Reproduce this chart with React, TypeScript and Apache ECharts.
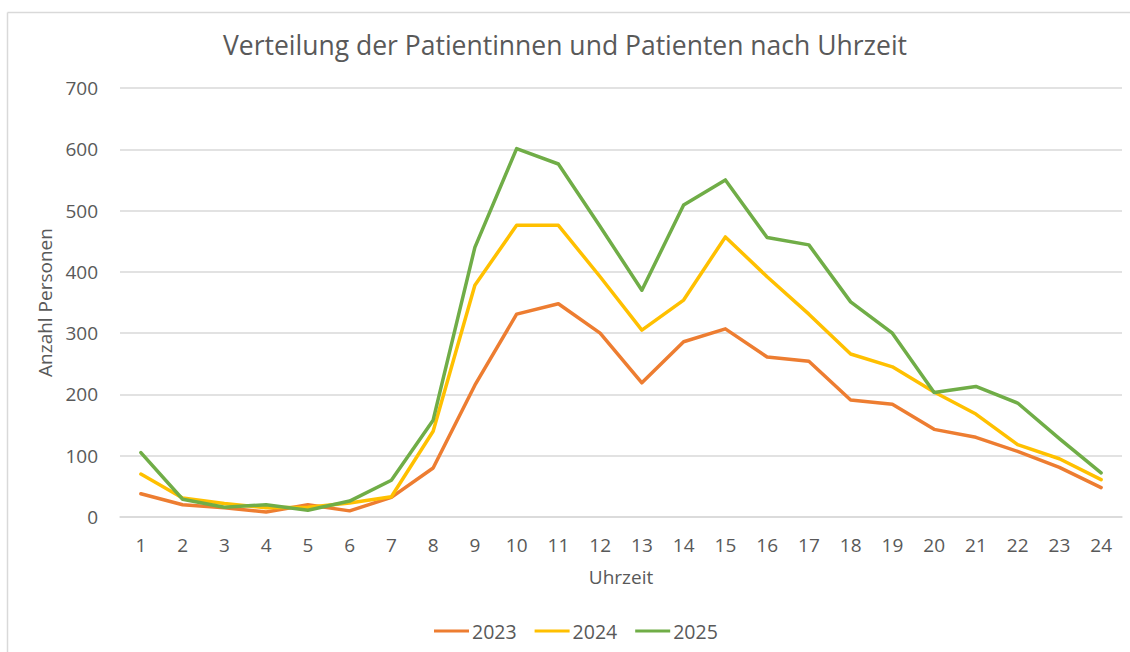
import React, { useEffect, useRef } from "react";
import * as echarts from "echarts";

const hours = ["1","2","3","4","5","6","7","8","9","10","11","12","13","14","15","16","17","18","19","20","21","22","23","24"];
const y2023 = [38, 20, 15, 8, 20, 10, 32, 80, 215, 331, 348, 300, 219, 286, 307, 261, 254, 191, 184, 143, 130, 107, 81, 48];
const y2024 = [70, 31, 22, 15, 16, 23, 33, 140, 378, 476, 476, 392, 305, 354, 457, 392, 331, 266, 245, 204, 168, 118, 95, 61];
const y2025 = [105, 29, 16, 20, 11, 26, 60, 158, 440, 601, 576, 474, 370, 509, 550, 456, 444, 351, 300, 203, 213, 186, 128, 72];
const seriesNames = ["2023", "2024", "2025"];
const seriesColors = ["#ED7D31", "#FFC000", "#70AD47"];

const FONT = "'Open Sans', sans-serif";
const TXT = "#595959";

export default function App() {
  const ref = useRef<HTMLDivElement>(null);
  useEffect(() => {
    if (!ref.current) return;
    const chart = echarts.init(ref.current, null, { renderer: "svg" });
    const data = [y2023, y2024, y2025];
    chart.setOption({
      animation: false,
      backgroundColor: "#FFFFFF",
      title: {
        text: "Verteilung der Patientinnen und Patienten nach Uhrzeit",
        left: "center",
        top: 26,
        textStyle: { fontFamily: FONT, fontSize: 26.5, fontWeight: "normal", color: TXT },
      },
      graphic: [
        {
          type: "line",
          shape: { x1: 7.5, y1: 12.5, x2: 1135, y2: 12.5 },
          style: { stroke: "#D9D9D9", lineWidth: 1.5 },
          silent: true,
        },
        {
          type: "line",
          shape: { x1: 7.5, y1: 12.5, x2: 7.5, y2: 660 },
          style: { stroke: "#D9D9D9", lineWidth: 1.5 },
          silent: true,
        },
      ],
      legend: {
        bottom: 6,
        left: 429,
        data: seriesNames,
        icon: "rect",
        itemWidth: 35,
        itemHeight: 3,
        itemGap: 18,
        textStyle: { fontFamily: FONT, fontSize: 19.5, color: TXT, padding: [0, 0, 0, -2] },
      },
      grid: { left: 120, right: 8, top: 88, bottom: 135 },
      xAxis: {
        type: "category",
        data: hours,
        boundaryGap: true,
        name: "Uhrzeit",
        nameLocation: "middle",
        nameGap: 50,
        nameTextStyle: { fontFamily: FONT, fontSize: 19, color: TXT },
        axisLine: { show: true, lineStyle: { color: "#D9D9D9", width: 1.5 } },
        axisTick: { show: false },
        axisLabel: { fontFamily: FONT, fontSize: 19, color: TXT, margin: 18, interval: 0 },
      },
      yAxis: {
        type: "value",
        min: 0,
        max: 700,
        interval: 100,
        name: "Anzahl Personen",
        nameLocation: "middle",
        nameGap: 66,
        nameTextStyle: { fontFamily: FONT, fontSize: 19, color: TXT },
        axisLine: { show: false },
        axisTick: { show: false },
        axisLabel: { fontFamily: FONT, fontSize: 19, color: TXT, margin: 22 },
        splitLine: { lineStyle: { color: "#D9D9D9", width: 1.5 } },
      },
      series: data.map((d, i) => ({
        name: seriesNames[i],
        type: "line",
        data: d,
        symbol: "none",
        color: seriesColors[i],
        lineStyle: { width: 3.5, color: seriesColors[i], join: "round", cap: "round" },
      })),
    });
    return () => chart.dispose();
  }, []);
  return (
    <div
      ref={ref}
      style={{ position: "absolute", left: 0, top: 0, width: 1130, height: 652 }}
    />
  );
}
